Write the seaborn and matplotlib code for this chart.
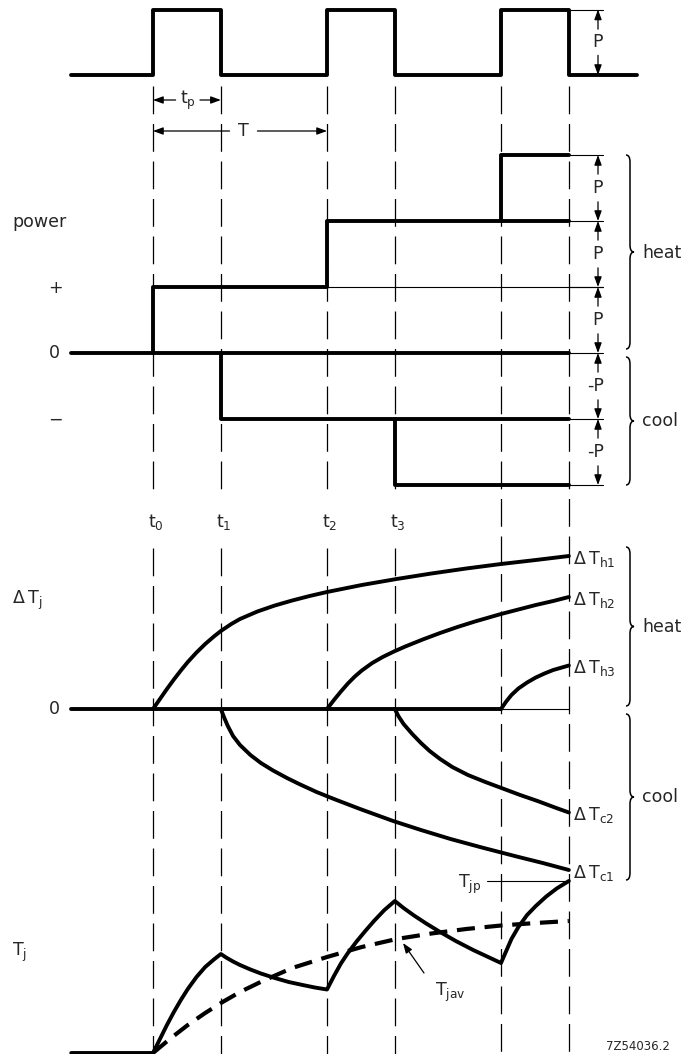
import matplotlib
matplotlib.use('Agg')
import matplotlib.pyplot as plt
from matplotlib.path import Path
from matplotlib.patches import PathPatch
import seaborn as sns

# time axis in units of the pulse period T (t0 = 0)
t_events = [0.0, 0.39, 1.0, 1.39, 2.0, 2.39]
t_labels = ['t$_0$', 't$_1$', 't$_2$', 't$_3$']
t_left, t_right = -0.47, 2.78

# pulse train, units of P
pulse_t = [-0.47, 0, 0, 0.39, 0.39, 1, 1, 1.39, 1.39, 2, 2, 2.39, 2.39, 2.78]
pulse_p = [0, 0, 1, 1, 0, 0, 1, 1, 0, 0, 1, 1, 0, 0]

# equivalent power steps, units of P
heat_a_t = [0, 0, 1, 1, 2.39]
heat_a_p = [0, 1, 1, 2, 2]
heat_b_t = [2, 2, 2.39]
heat_b_p = [2, 3, 3]
cool_a_t = [0.39, 0.39, 2.39]
cool_a_p = [0, -1, -1]
cool_b_t = [1.39, 1.39, 2.39]
cool_b_p = [-1, -2, -2]
power_levels = [3, 2, 1, 0, -1, -2]
power_marks = ['P', 'P', 'P', '-P', '-P']

# temperature responses (arbitrary units)
h1_t = [0, 0.04, 0.08, 0.12, 0.16, 0.2, 0.25, 0.3, 0.35, 0.39, 0.45, 0.5, 0.6,
        0.7, 0.8, 0.9, 1.0, 1.2, 1.4, 1.6, 1.8, 2.0, 2.2, 2.39]
h1_v = [0, 0.10, 0.20, 0.295, 0.385, 0.47, 0.565, 0.65, 0.725, 0.78, 0.85, 0.90,
        0.975, 1.035, 1.085, 1.13, 1.17, 1.24, 1.30, 1.355, 1.405, 1.45, 1.49, 1.53]
h2_t = [1.0, 1.04, 1.08, 1.12, 1.16, 1.2, 1.26, 1.32, 1.385, 1.45, 1.55, 1.65,
        1.75, 1.85, 2.0, 2.1, 2.2, 2.3, 2.39]
h2_v = [0, 0.09, 0.175, 0.255, 0.325, 0.385, 0.46, 0.52, 0.575, 0.625, 0.695,
        0.76, 0.82, 0.875, 0.95, 0.995, 1.04, 1.08, 1.12]
h3_t = [2.0, 2.03, 2.06, 2.1, 2.15, 2.2, 2.25, 2.3, 2.35, 2.39]
h3_v = [0, 0.075, 0.14, 0.205, 0.265, 0.315, 0.355, 0.39, 0.415, 0.435]
c1_t = [0.39, 0.41, 0.43, 0.46, 0.50, 0.56, 0.62, 0.69, 0.77, 0.84, 0.94, 1.04,
        1.19, 1.38, 1.54, 1.71, 1.89, 2.09, 2.24, 2.39]
c1_v = [0, -0.09, -0.17, -0.27, -0.36, -0.46, -0.54, -0.615, -0.69, -0.75, -0.83,
        -0.90, -1.0, -1.12, -1.21, -1.30, -1.385, -1.475, -1.54, -1.61]
c2_t = [1.39, 1.41, 1.44, 1.49, 1.54, 1.59, 1.65, 1.72, 1.81, 1.91, 2.01, 2.11,
        2.21, 2.31, 2.39]
c2_v = [0, -0.07, -0.15, -0.25, -0.34, -0.42, -0.50, -0.58, -0.66, -0.73, -0.795,
        -0.86, -0.92, -0.985, -1.035]
dT_labels = ['h1', 'h2', 'h3', 'c2', 'c1']

# junction temperature
tj_t = [-0.47, 0, 0.04, 0.08, 0.12, 0.16, 0.2, 0.25, 0.3, 0.35, 0.39,
        0.42, 0.46, 0.5, 0.56, 0.62, 0.7, 0.78, 0.86, 0.93, 1.0,
        1.04, 1.08, 1.12, 1.17, 1.22, 1.27, 1.33, 1.39,
        1.44, 1.5, 1.57, 1.65, 1.74, 1.84, 1.92, 2.0,
        2.03, 2.06, 2.1, 2.15, 2.2, 2.26, 2.32, 2.39]
tj_v = [0, 0, 0.14, 0.28, 0.41, 0.53, 0.64, 0.76, 0.86, 0.935, 0.99,
        0.955, 0.915, 0.88, 0.835, 0.795, 0.75, 0.71, 0.68, 0.655, 0.635,
        0.77, 0.895, 1.0, 1.115, 1.22, 1.32, 1.43, 1.52,
        1.45, 1.375, 1.295, 1.21, 1.12, 1.03, 0.965, 0.90,
        1.02, 1.14, 1.26, 1.38, 1.47, 1.565, 1.645, 1.72]
tjav_t = [0, 0.1, 0.2, 0.3, 0.4, 0.5, 0.63, 0.8, 1.0, 1.2, 1.4, 1.6, 1.8, 2.0,
          2.2, 2.39]
tjav_v = [0, 0.145, 0.28, 0.40, 0.51, 0.61, 0.72, 0.85, 0.96, 1.06, 1.14, 1.195,
          1.24, 1.275, 1.30, 1.32]
tjp = 1.72

sns.set_style('white')
plt.rcParams['font.family'] = ['DejaVu Sans']
plt.rcParams['mathtext.default'] = 'regular'
plt.rcParams['lines.scale_dashes'] = False
plt.rcParams['lines.solid_joinstyle'] = 'round'

W, H = 689, 1054
X0, SC = 153, 174          # pixel of t0, pixels per period
FS = 12.5
THICK, THIN = 2.8, 0.8
DASH = (0, (20, 7))


def px(x):
    return (x - X0) / SC


fig = plt.figure(figsize=(W / 100, H / 100), dpi=100)


def layer(zero_row=None, rows_per_unit=None):
    a = fig.add_axes([0, 0, 1, 1])
    a.set_xlim(px(0), px(W))
    if zero_row is None:
        a.set_ylim(H, 0)
    else:
        a.set_ylim((zero_row - H) / rows_per_unit, zero_row / rows_per_unit)
    a.axis('off')
    a.patch.set_visible(False)
    return a


def line(a, x, y, lw=THICK, **kw):
    sns.lineplot(x=x, y=y, ax=a, color='black', lw=lw, sort=False,
                 estimator=None, **kw)


def arrow(a, tip, tail):
    a.annotate('', xy=tip, xytext=tail,
               arrowprops=dict(arrowstyle='-|>,head_length=0.6,head_width=0.22',
                               color='black', lw=0.9, shrinkA=0, shrinkB=0,
                               mutation_scale=10))


def brace(a, x, y0, y1):
    xm, xt, ym, r = x + 4, x + 8, (y0 + y1) / 2, 7
    verts = [(px(x), y0), (px(xm), y0), (px(xm), y0 + r), (px(xm), ym - r),
             (px(xm), ym), (px(xt), ym), (px(xm), ym), (px(xm), ym + r),
             (px(xm), y1 - r), (px(xm), y1), (px(x), y1)]
    codes = [Path.MOVETO, Path.CURVE3, Path.CURVE3, Path.LINETO, Path.CURVE3,
             Path.CURVE3, Path.CURVE3, Path.CURVE3, Path.LINETO, Path.CURVE3,
             Path.CURVE3]
    a.add_patch(PathPatch(Path(verts, codes), fill=False, lw=1.1, color='black'))


# frame layer: x = time, y = pixel rows
fr = layer()
for i, t in enumerate(t_events):
    spans = [(86, 498), (548, H)] if i < 4 else [(86, H)]
    for y0, y1 in spans:
        fr.plot([t, t], [y0, y1], color='black', lw=0.9, linestyle=DASH)
    if i < 4:
        fr.text(t + px(X0 + 3), 522, t_labels[i], fontsize=FS, ha='center', va='center')

# tp and T dimension arrows
arrow(fr, (t_events[0], 100), (0.13, 100))
arrow(fr, (t_events[1], 100), (0.27, 100))
fr.text(0.2, 100, 't$_p$', fontsize=FS, ha='center', va='center')
arrow(fr, (t_events[0], 131), (0.44, 131))
arrow(fr, (t_events[2], 131), (0.60, 131))
fr.text(0.52, 131, 'T', fontsize=FS, ha='center', va='center')

# left side labels
fr.text(px(12), 222, 'power', fontsize=FS, ha='left', va='center')
fr.text(px(55), 288, '+', fontsize=FS, ha='center', va='center')
fr.text(px(54), 353, '0', fontsize=FS, ha='center', va='center')
fr.text(px(55), 420, '\u2212', fontsize=FS, ha='center', va='center')
fr.text(px(12), 600, '\u0394\u2009T$_j$', fontsize=FS, ha='left', va='center')
fr.text(px(54), 709, '0', fontsize=FS, ha='center', va='center')
fr.text(px(12), 952, 'T$_j$', fontsize=FS, ha='left', va='center')

# braces
brace(fr, 626, 155, 349)
brace(fr, 626, 357, 485)
brace(fr, 626, 547, 706)
brace(fr, 626, 714, 880)
for y, s in [(253, 'heat'), (421, 'cool'), (627, 'heat'), (797, 'cool')]:
    fr.text(px(642), y, s, fontsize=FS, ha='left', va='center')

fr.text(px(638), 1046, '7Z54036.2', fontsize=8.5, ha='center', va='center')

# pulse train
pa = layer(75, 65.5)
line(pa, pulse_t, pulse_p)
line(pa, [t_events[5], px(603)], [1, 1], lw=THIN)
arrow(pa, (px(598), 1), (px(598), 0.7))
arrow(pa, (px(598), 0), (px(598), 0.3))
pa.text(px(598), 0.5, 'P', fontsize=FS, ha='center', va='center')

# power steps
pw = layer(353, 66)
line(pw, [t_left, t_events[5]], [0, 0])
line(pw, heat_a_t, heat_a_p)
line(pw, heat_b_t, heat_b_p)
line(pw, cool_a_t, cool_a_p)
line(pw, cool_b_t, cool_b_p)
line(pw, [t_events[2], px(603)], [1, 1], lw=THIN)
for lv in power_levels:
    line(pw, [t_events[5], px(603)], [lv, lv], lw=THIN)
for hi, lo, s in zip(power_levels[:-1], power_levels[1:], power_marks):
    mid = (hi + lo) / 2
    arrow(pw, (px(598), hi), (px(598), mid + 0.21))
    arrow(pw, (px(598), lo), (px(598), mid - 0.21))
    pw.annotate(s, xy=(px(598), mid), xytext=(4 if s.startswith('-') else 0, 0),
                textcoords='offset points', fontsize=FS,
                ha='right' if s.startswith('-') else 'center', va='center')

# temperature rise
dt = layer(709, 100)
line(dt, [t_left, t_events[4]], [0, 0])
line(dt, [t_events[4], t_events[5]], [0, 0], lw=THIN)
for xs, ys in [(h1_t, h1_v), (h2_t, h2_v), (h3_t, h3_v), (c1_t, c1_v), (c2_t, c2_v)]:
    line(dt, xs, ys)
for ys, s in zip([h1_v, h2_v, h3_v, c2_v, c1_v], dT_labels):
    dt.annotate('\u0394\u2009T$_{%s}$' % s, xy=(t_events[5], ys[-1]),
                xytext=(3, -2), textcoords='offset points', fontsize=FS,
                ha='left', va='center')

# junction temperature
tj = layer(1053, 100)
line(tj, tj_t, tj_v)
line(tj, tjav_t, tjav_v, lw=3.0, linestyle=(0, (13, 7)))
line(tj, [px(487), t_events[5]], [tjp, tjp], lw=THIN)
tj.text(px(470), tjp - 0.03, 'T$_{jp}$', fontsize=FS, ha='center', va='center')
arrow(tj, (px(403), 1.10), (px(424), 0.80))
tj.text(px(450), 0.61, 'T$_{jav}$', fontsize=FS, ha='center', va='center')

fig.savefig('out.png', dpi=100)
